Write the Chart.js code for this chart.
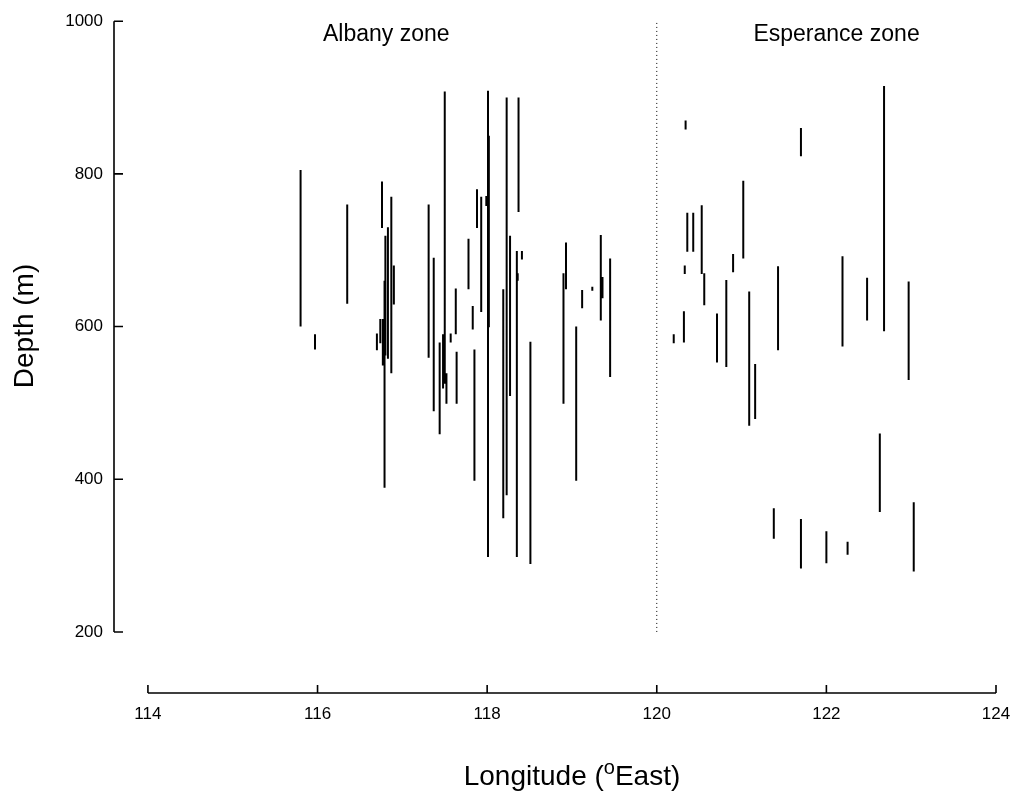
<!DOCTYPE html>
<html>
<head>
<meta charset="utf-8">
<script src="https://cdn.jsdelivr.net/npm/chart.js@4"></script>
<style>
  html, body { margin: 0; padding: 0; background: #fff; }
  #wrap { width: 1018px; height: 791px; position: relative; }
</style>
</head>
<body>
<div id="wrap"><canvas id="depthChart"></canvas></div>
<script>
// longitude of each sampled depth range (deg East)
var lon = [
  115.80, 115.97, 116.35, 116.70, 116.74, 116.76, 116.77, 116.79, 116.80, 116.83,
  116.87, 116.90, 117.31, 117.37, 117.44, 117.48, 117.50, 117.52, 117.57, 117.63,
  117.64, 117.78, 117.83, 117.85, 117.88, 117.93, 117.99, 118.01, 118.02, 118.19,
  118.23, 118.27, 118.35, 118.36, 118.37, 118.41, 118.51, 118.90, 118.93, 119.05,
  119.12, 119.24, 119.34, 119.36, 119.45,
  120.20, 120.32, 120.33, 120.34, 120.36, 120.43, 120.53, 120.56, 120.71, 120.82,
  120.90, 121.02, 121.09, 121.16, 121.38, 121.43, 121.70, 121.70, 122.00, 122.19,
  122.25, 122.48, 122.63, 122.68, 122.97, 123.03
];
// deepest and shallowest end of each range (m)
var depthHigh = [
  805, 590, 760, 591, 610, 790, 610, 660, 719, 730,
  770, 680, 760, 690, 579, 590, 908, 539, 591, 650,
  567, 715, 627, 570, 780, 770, 771, 909, 850, 649,
  900, 719, 699, 670, 900, 699, 580, 670, 710, 600,
  648, 652, 720, 665, 689,
  590, 620, 680, 870, 749, 749, 759, 670, 617, 661,
  695, 791, 646, 551, 362, 679, 860, 348, 332, 692,
  318, 664, 460, 915, 659, 370
];
var depthLow = [
  600, 570, 630, 569, 578, 729, 549, 389, 562, 558,
  539, 629, 559, 489, 459, 519, 525, 499, 579, 590,
  499, 649, 596, 398, 729, 619, 758, 298, 599, 349,
  379, 509, 298, 660, 750, 688, 289, 499, 649, 398,
  624, 647, 608, 637, 534,
  578, 579, 669, 858, 698, 698, 669, 628, 553, 547,
  671, 689, 470, 479, 322, 569, 823, 283, 290, 574,
  301, 608, 357, 594, 530, 279
];

var xTicks = [114, 116, 118, 120, 122, 124];
var yTicks = [200, 400, 600, 800, 1000];
var zoneNames = ['Albany zone', 'Esperance zone'];
var zoneBoundary = 120;

var FONT = '"Liberation Sans", Arial, sans-serif';

// build broken line data: one segment per range, null point between them
var segs = [];
for (var i = 0; i < lon.length; i++) {
  segs.push({ x: lon[i], y: depthHigh[i] });
  segs.push({ x: lon[i], y: depthLow[i] });
  segs.push({ x: lon[i], y: null });
}

// the plain axes, drawn detached like the original plot
var axesPlugin = {
  id: 'axesPlugin',
  afterDraw: function (chart) {
    var ctx = chart.ctx;
    var xs = chart.scales.x, ys = chart.scales.y;
    var area = chart.chartArea;
    ctx.save();
    ctx.strokeStyle = '#000';
    ctx.lineWidth = 1.6;

    // y axis
    var ax = area.left;
    ctx.beginPath();
    ctx.moveTo(ax, ys.getPixelForValue(yTicks[0]));
    ctx.lineTo(ax, ys.getPixelForValue(yTicks[yTicks.length - 1]));
    yTicks.forEach(function (v) {
      var py = ys.getPixelForValue(v);
      ctx.moveTo(ax, py);
      ctx.lineTo(ax + 9, py);
    });
    ctx.stroke();

    // x axis
    var ay = area.bottom;
    ctx.beginPath();
    ctx.moveTo(xs.getPixelForValue(xTicks[0]), ay);
    ctx.lineTo(xs.getPixelForValue(xTicks[xTicks.length - 1]), ay);
    xTicks.forEach(function (v) {
      var px = xs.getPixelForValue(v);
      ctx.moveTo(px, ay);
      ctx.lineTo(px, ay - 8);
    });
    ctx.stroke();

    ctx.fillStyle = '#000';
    ctx.textAlign = 'center';
    ctx.textBaseline = 'middle';

    // x tick labels
    ctx.font = '17px ' + FONT;
    xTicks.forEach(function (v) {
      ctx.fillText(String(v), xs.getPixelForValue(v), ay + 21);
    });

    // zone labels
    ctx.font = '23px ' + FONT;
    ctx.fillText(zoneNames[0], xs.getPixelForValue(116.81), ys.getPixelForValue(983));
    ctx.fillText(zoneNames[1], xs.getPixelForValue(122.12), ys.getPixelForValue(983));

    // y title
    ctx.save();
    ctx.translate(25, 326);
    ctx.rotate(-Math.PI / 2);
    ctx.font = '28px ' + FONT;
    ctx.fillText('Depth (m)', 0, 0);
    ctx.restore();

    // x title with superscript o
    ctx.textAlign = 'left';
    ctx.textBaseline = 'alphabetic';
    var big = '28px ' + FONT, small = '20px ' + FONT;
    ctx.font = big;
    var w1 = ctx.measureText('Longitude (').width;
    var w3 = ctx.measureText('East)').width;
    ctx.font = small;
    var w2 = ctx.measureText('o').width;
    var x0 = 572 - (w1 + w2 + w3) / 2;
    var base = 785;
    ctx.font = big;
    ctx.fillText('Longitude (', x0, base);
    ctx.font = small;
    ctx.fillText('o', x0 + w1, base - 11);
    ctx.font = big;
    ctx.fillText('East)', x0 + w1 + w2, base);
    ctx.restore();
  }
};

var ctx = document.getElementById('depthChart').getContext('2d');
var myChart = new Chart(ctx, {
  type: 'scatter',
  data: {
    datasets: [
      {
        // dotted boundary between the zones
        data: [{ x: zoneBoundary, y: 200 }, { x: zoneBoundary, y: 1000 }],
        showLine: true,
        borderColor: '#000',
        borderWidth: 1,
        borderDash: [1, 3],
        pointRadius: 0
      },
      {
        data: segs,
        showLine: true,
        spanGaps: false,
        borderColor: '#000',
        borderWidth: 2,
        borderCapStyle: 'butt',
        pointRadius: 0
      }
    ]
  },
  options: {
    responsive: true,
    maintainAspectRatio: false,
    animation: false,
    layout: { padding: { left: 0, top: 20, right: 22, bottom: 0 } },
    plugins: {
      legend: { display: false },
      tooltip: { enabled: false }
    },
    scales: {
      x: {
        type: 'linear',
        min: 113.6,
        max: 124,
        border: { display: false },
        grid: { display: false, drawTicks: false },
        afterFit: function (scale) { scale.height = 98; },
        ticks: { display: false }
      },
      y: {
        type: 'linear',
        min: 120,
        max: 1000,
        border: { display: false },
        grid: { display: false, drawTicks: false },
        afterBuildTicks: function (scale) {
          scale.ticks = yTicks.map(function (v) { return { value: v }; });
        },
        afterFit: function (scale) { scale.width = 114; },
        ticks: {
          color: '#000',
          font: { family: FONT, size: 17 },
          padding: 11,
          callback: function (v) { return String(v); }
        }
      }
    }
  },
  plugins: [axesPlugin]
});
</script>
</body>
</html>
